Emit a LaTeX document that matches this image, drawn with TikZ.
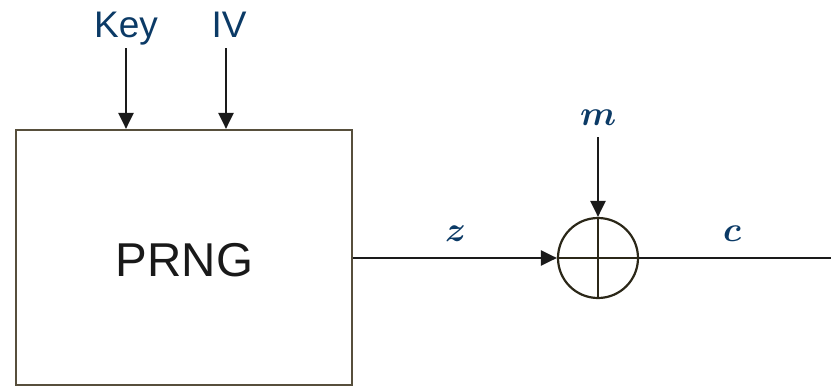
\documentclass[tikz,border=0pt]{standalone}
\usepackage{fontspec}
\setmainfont{Liberation Sans}
\usepackage{unicode-math}
\setmathfont{Latin Modern Math}
\usetikzlibrary{arrows.meta}
\definecolor{lblue}{HTML}{0B3A66}
\definecolor{boxline}{HTML}{574F3C}
\definecolor{circline}{HTML}{2B2718}
\definecolor{arr}{HTML}{1A1A1A}
\tikzset{
  lab/.style={text=lblue, inner sep=0pt, anchor=base, font=\fontsize{37}{40}\selectfont},
  mlab/.style={text=lblue, inner sep=0pt, anchor=base, font=\fontsize{35}{38}\selectfont},
  conn/.style={draw=arr, line width=2.2pt, -{Triangle[length=16pt,width=15pt]}},
}
\begin{document}
\begin{tikzpicture}[x=1pt,y=-1pt]
\useasboundingbox (0,0) rectangle (831,386);
\node[draw=boxline, line width=2.2pt, minimum width=336pt, minimum height=255pt, inner sep=0pt] (box) at (184,257.5) {};
\node[anchor=base, inner sep=0pt, text=black!90, font=\fontsize{47.5}{50}\selectfont] (prngt) at (184.5,276) {PRNG};
\node[lab] (key) at (126,37) {Key};
\node[lab] (iv) at (229,37) {IV};
\coordinate (keys) at (126,48);
\coordinate (ivs) at (226,48);
\draw[conn] (keys) -- (keys |- box.north);
\draw[conn] (ivs) -- (ivs |- box.north);
\node[draw=circline, line width=2.2pt, circle, minimum size=80pt, inner sep=0pt] (xor) at (598,258) {};
\draw[draw=circline, line width=2.2pt] (xor.north) -- (xor.south) (xor.west) -- (xor.east);
\node[mlab] (m) at (598.5,125) {$\symbfit{m}$};
\coordinate (ms) at (598,137);
\draw[conn] (ms) -- (xor.north);
\draw[conn] (box.east |- xor.west) -- (xor.west);
\node[mlab] (z) at (455,241) {$\symbfit{z}$};
\node[mlab] (c) at (733,241) {$\symbfit{c}$};
\coordinate (out) at (848,258);
\draw[conn] (xor.east) -- (out);
\end{tikzpicture}
\end{document}
